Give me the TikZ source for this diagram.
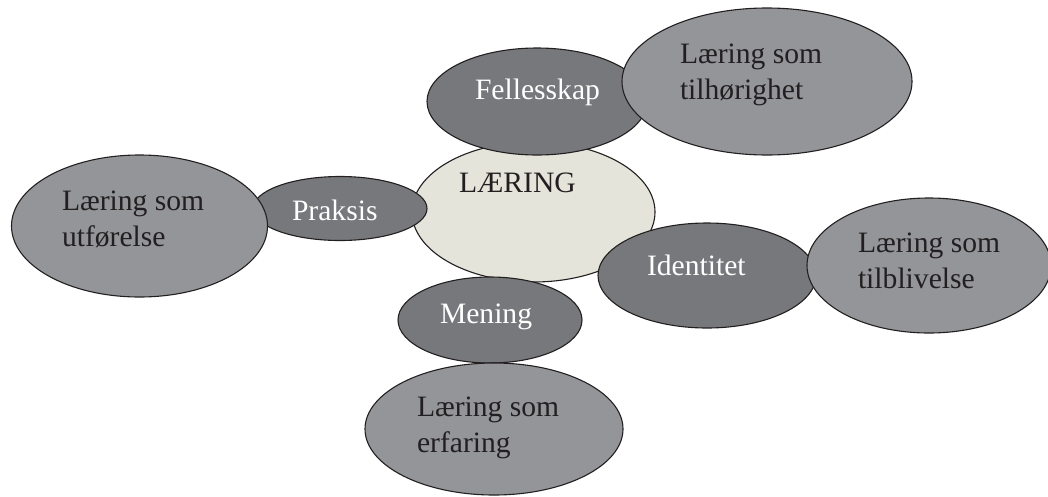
\documentclass[tikz,border=0pt]{standalone}
\usepackage{fontspec}
\setmainfont{Liberation Serif}
\usetikzlibrary{shapes.geometric}
\definecolor{darkg}{HTML}{77787B}
\definecolor{lightg}{HTML}{939598}
\definecolor{beige}{HTML}{E4E4DA}
\definecolor{ink}{HTML}{231F20}
\begin{document}
\begin{tikzpicture}[x=1pt,y=-1pt,
  blob/.style={ellipse, draw=ink, line width=1.1pt, inner sep=0pt, outer sep=0pt},
  core/.style={blob, fill=beige},
  aspect/.style={blob, fill=darkg},
  kind/.style={blob, fill=lightg},
  lbl/.style={anchor=base west, inner sep=0pt, outer sep=0pt, font=\fontsize{29.6}{36}\selectfont, align=left, text=ink},
  wlbl/.style={lbl, text=white}]
\useasboundingbox (0,0) rectangle (1048,496);
% centre
\node[core, minimum width=243pt, minimum height=140pt] (laering) at (533.5,212) {};
% top
\node[aspect, minimum width=220pt, minimum height=107pt] (fellesskap) at (537,101.5) {};
\node[kind, minimum width=290pt, minimum height=147pt] (tilhorighet) at (767,81.5) {};
% left
\node[aspect, minimum width=174pt, minimum height=64pt] (praksis) at (340,208.5) {};
\node[kind, minimum width=256pt, minimum height=142pt] (utforelse) at (139.5,226) {};
% right
\node[aspect, minimum width=218pt, minimum height=105pt] (identitet) at (707,275.5) {};
\node[kind, minimum width=244pt, minimum height=135pt] (tilblivelse) at (929,265.5) {};
% bottom
\node[aspect, minimum width=184pt, minimum height=86pt] (mening) at (490,320) {};
\node[kind, minimum width=258pt, minimum height=132pt] (erfaring) at (494,429) {};
% labels (two-line labels: base anchor is the last line's baseline)
\node[lbl] (tlaering) at (459,192) {LÆRING};
\node[wlbl] (tfelles) at (475,99) {Fellesskap};
\node[lbl] (ttilh) at (680,99) {Læring som\\tilhørighet};
\node[wlbl] (tpraksis) at (292,220) {Praksis};
\node[lbl] (tutf) at (62,246) {Læring som\\utførelse};
\node[wlbl] (tident) at (647,275) {Identitet};
\node[lbl] (ttilb) at (858,288) {Læring som\\tilblivelse};
\node[wlbl] (tmening) at (440,323) {Mening};
\node[lbl] (terf) at (417,452) {Læring som\\erfaring};
\end{tikzpicture}
\end{document}
